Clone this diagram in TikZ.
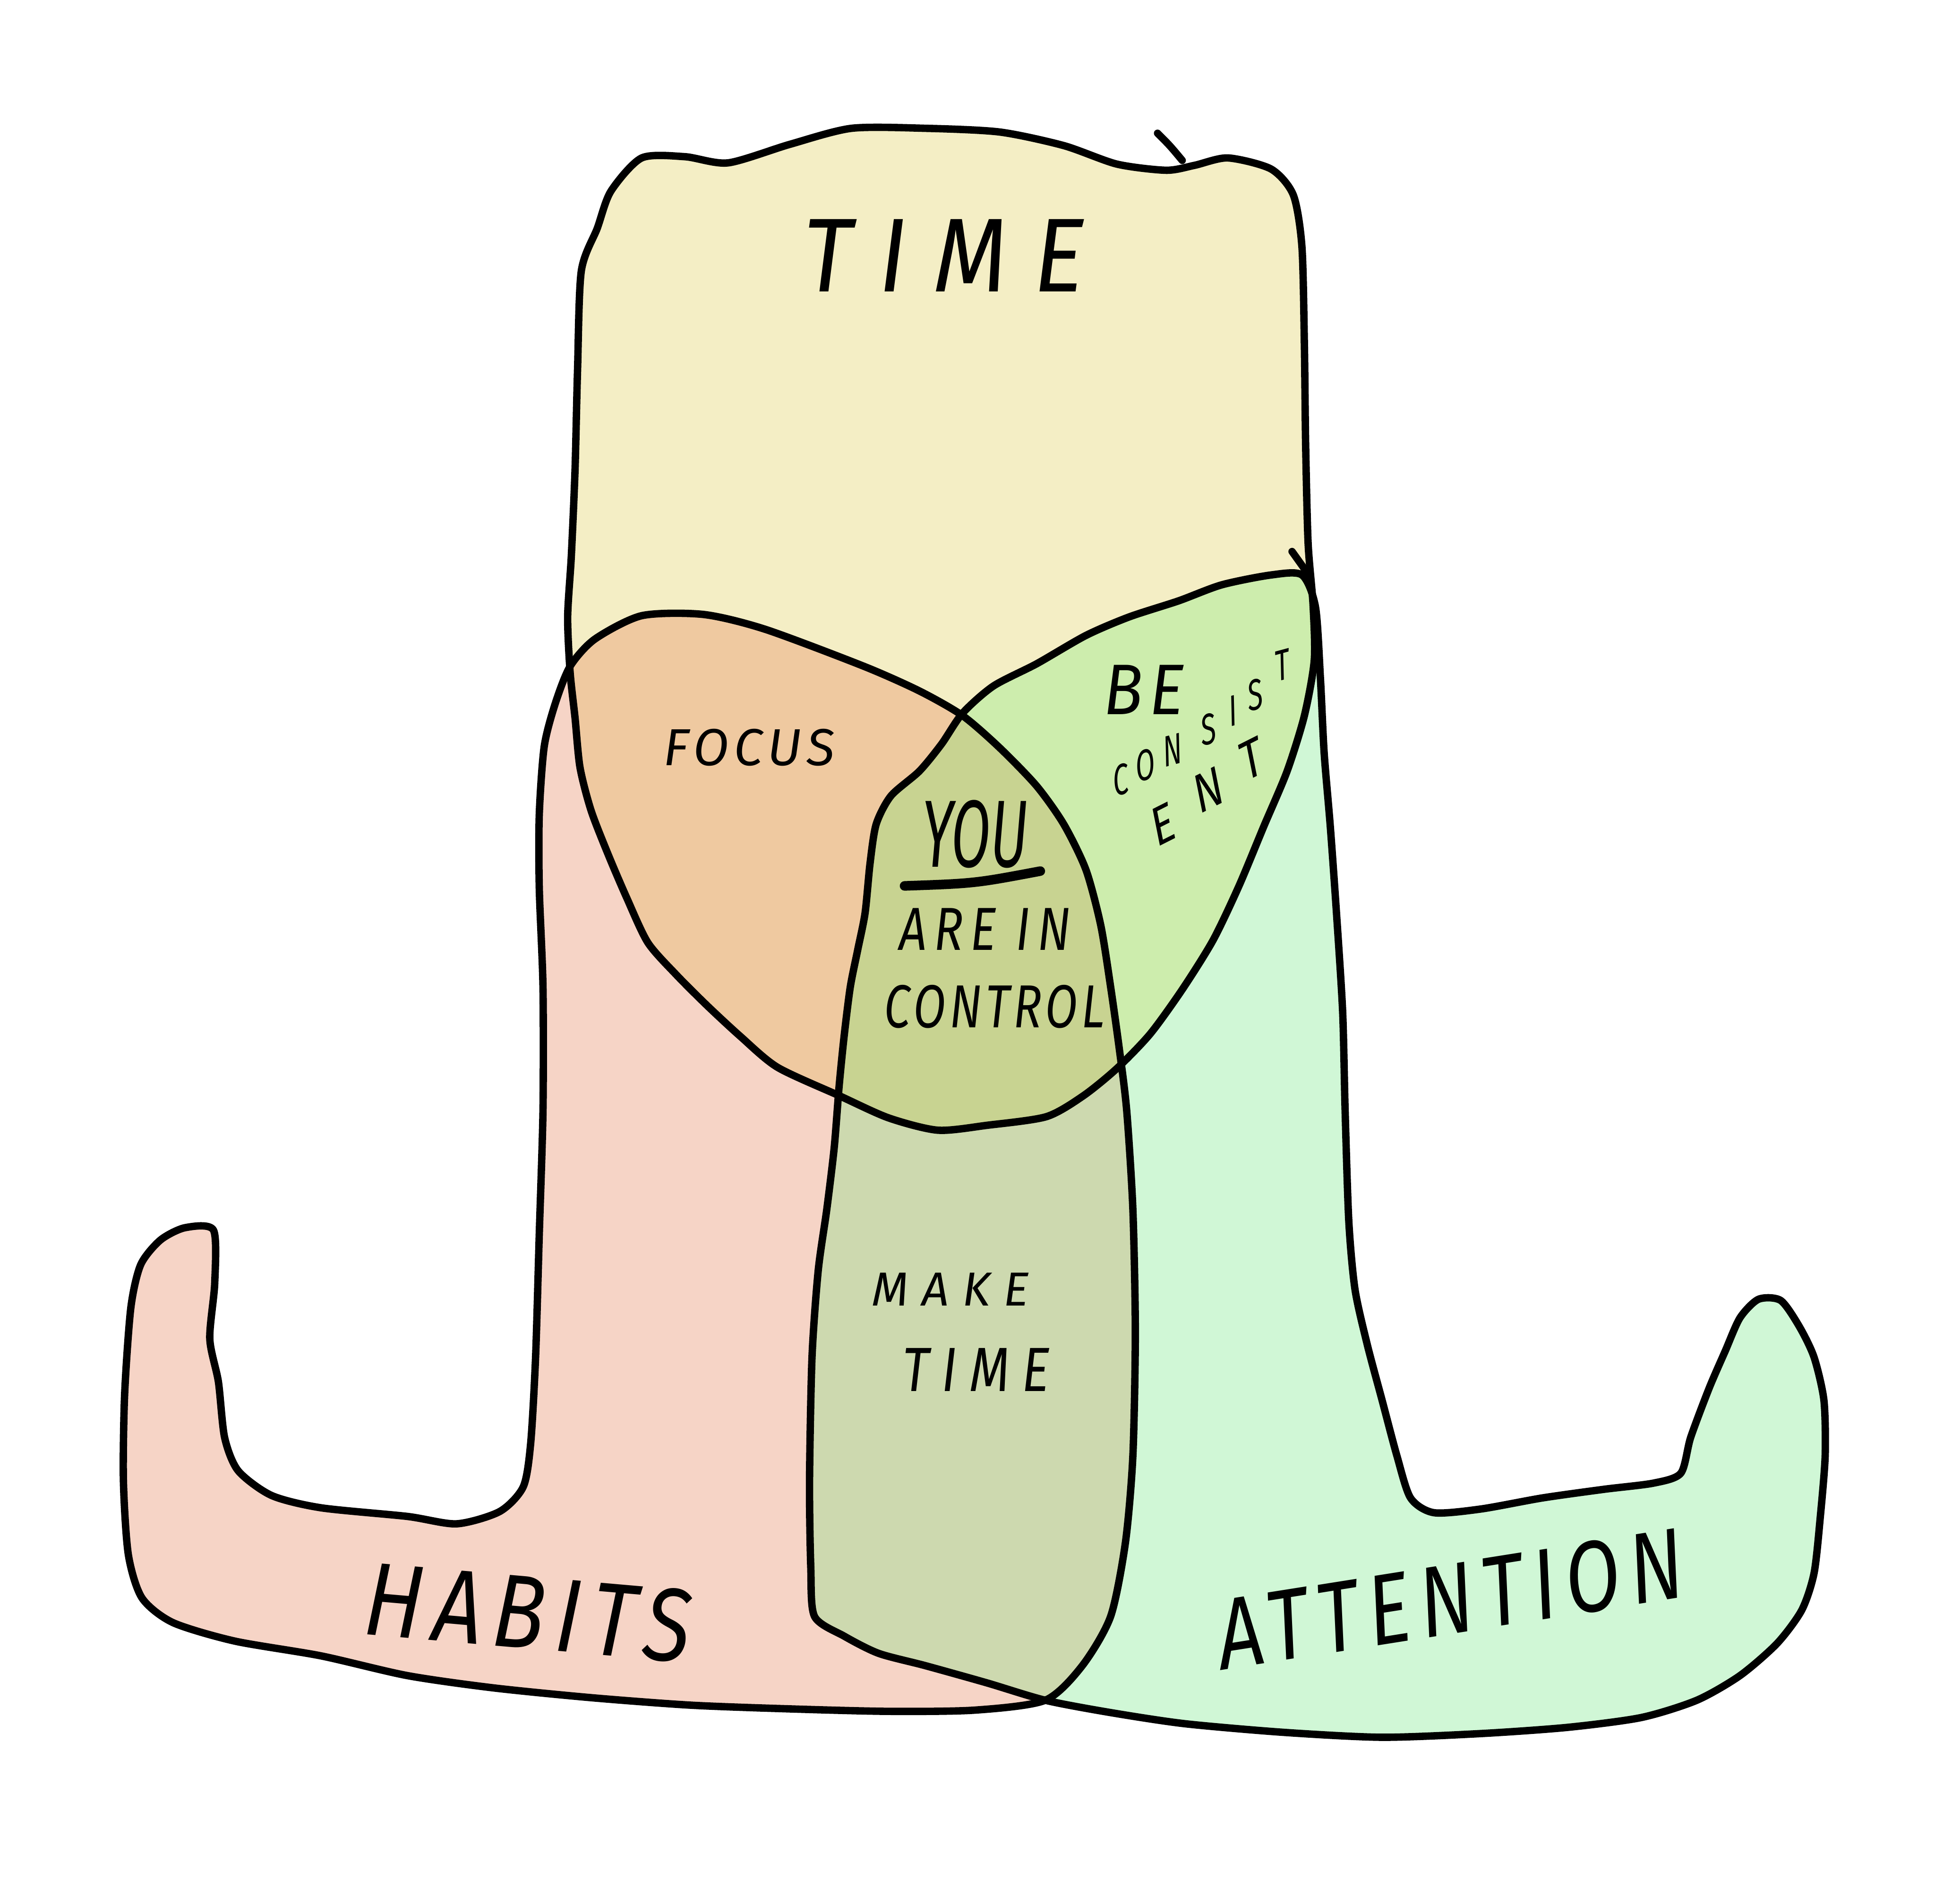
\documentclass[tikz,border=0pt]{standalone}
\usepackage{fontspec}
\setmainfont{Fira Sans}
\newfontfamily\handfont{Fira Sans}

\definecolor{timefill}{HTML}{F4EEC5}
\definecolor{habitfill}{HTML}{F6D4C6}
\definecolor{attnfill}{HTML}{D0F7D6}
\definecolor{focusfill}{HTML}{EFC9A0}
\definecolor{consistfill}{HTML}{CDEDAD}
\definecolor{youfill}{HTML}{C8D391}
\definecolor{makefill}{HTML}{CDD9AF}

% hand lettering: size, letter spacing
\newcommand\hand[2]{\handfont\itshape\addfontfeature{LetterSpace=#2}\fontsize{#1}{#1}\selectfont}

% the three hand drawn sets
\newcommand\timeshape{plot[smooth cycle, tension=0.45] coordinates {
  (520,128) (555,127) (590,132) (640,117) (690,104) (750,104) (810,107)
  (862,118) (905,133) (945,138) (968,134) (995,128) (1030,137) (1048,158)
  (1055,200) (1057,280) (1058,360) (1060,440) (1064,490) (1065,535)
  (1057,580) (1043,625) (1024,670) (1004,718) (983,762) (958,802) (932,838)
  (905,866) (878,888) (848,905) (800,912) (760,916) (720,906) (680,888)
  (630,865) (600,840) (573,815) (548,790) (525,764) (508,728) (493,693)
  (479,657) (470,622) (466,582) (462,545) (460,500) (463,450) (466,380)
  (468,300) (471,220) (484,185) (495,155)}}
\newcommand\habitshape{plot[smooth cycle, tension=0.45] coordinates {
  (462,540) (482,518) (520,499) (570,498) (620,510) (700,540) (745,560)
  (780,580) (810,606) (840,637) (862,668) (880,705) (892,750) (900,800)
  (907,850) (913,900) (918,980) (920,1080) (918,1180) (912,1250) (900,1310)
  (877,1350) (847,1378) (790,1386) (720,1387) (640,1385) (560,1382)
  (480,1376) (400,1368) (330,1358) (260,1342) (190,1330) (140,1315)
  (115,1295) (104,1260) (100,1200) (101,1130) (106,1060) (114,1025)
  (130,1005) (150,995) (173,997) (174,1040) (170,1085) (177,1120)
  (182,1165) (193,1192) (220,1212) (260,1222) (330,1229) (370,1235)
  (405,1225) (424,1205) (430,1170) (434,1100) (437,1000) (440,900)
  (440,800) (437,720) (437,660) (441,605) (450,570)}}
\newcommand\attnshape{plot[smooth cycle, tension=0.45] coordinates {
  (780,578) (805,556) (840,538) (880,515) (915,500) (955,487) (990,474)
  (1030,466) (1055,466) (1066,492) (1070,550) (1073,610) (1078,670)
  (1083,740) (1088,820) (1090,900) (1093,990) (1098,1045) (1108,1090)
  (1120,1135) (1132,1180) (1143,1214) (1162,1226) (1200,1223) (1250,1214)
  (1300,1207) (1340,1202) (1362,1194) (1370,1165) (1385,1125) (1398,1095)
  (1410,1068) (1425,1053) (1443,1054) (1458,1075) (1470,1100) (1478,1135)
  (1479,1180) (1475,1230) (1470,1275) (1460,1305) (1440,1332) (1410,1358)
  (1375,1378) (1330,1392) (1270,1400) (1200,1405) (1120,1408) (1040,1404)
  (960,1397) (900,1388) (847,1378) (800,1364) (750,1350) (712,1340)
  (684,1326) (660,1310) (657,1270) (656,1200) (658,1100) (663,1030)
  (670,980) (676,930) (680,880) (684,840) (689,800) (695,770) (701,740)
  (705,700) (710,668) (722,645) (745,625) (763,603)}}

\tikzset{
  outline/.style={line width=1.7pt, line join=round, line cap=round},
  word/.style={inner sep=0pt, text=black},
}

\begin{document}
\begin{tikzpicture}[x=0.01cm, y=-0.01cm]
\useasboundingbox (0,0) rectangle (1568,1543);
\fill[white] (0,0) rectangle (1568,1543);

% base fills
\fill[timefill] \timeshape;
\fill[habitfill] \habitshape;
\fill[attnfill] \attnshape;

% overlaps
\begin{scope}
  \clip \timeshape;
  \fill[focusfill] \habitshape;
  \fill[consistfill] \attnshape;
\end{scope}
\begin{scope}
  \clip \habitshape;
  \fill[makefill] \attnshape;
\end{scope}
\begin{scope}
  \clip \timeshape;
  \clip \habitshape;
  \fill[youfill] \attnshape;
\end{scope}

% outlines
\draw[outline] \timeshape;
\draw[outline] \habitshape;
\draw[outline] \attnshape;
\draw[outline] (1047,447) -- (1062,468);
\draw[outline] (938,108) .. controls (948,118) .. (958,130);

% labels
\node[word, font=\hand{22}{28}, yscale=1.1] (time) at (765,207) {TIME};
\node[word, font=\hand{12}{10}] (focus) at (607,606) {FOCUS};
\node[word, font=\hand{15}{10}, yscale=1.1] (be) at (927,559) {BE};
% letters of consist/ent follow the curve
\foreach \ch/\px/\py [count=\i] in {C/908/632, O/928/620, N/950/608, S/979/591, I/999/576, S/1017/563, T/1039/539}
  \node[word, font=\hand{10}{0}, xscale=0.65, rotate=10] (consist\i) at (\px,\py) {\ch};
\foreach \ch/\px/\py [count=\i] in {E/942/668, N/979/640, T/1014/615}
  \node[word, font=\hand{12.5}{0}, xscale=0.8, rotate=22] (ent\i) at (\px,\py) {\ch};
\node[word, font=\hand{22}{0}, xscale=0.6] (you) at (790,676) {YOU};
\draw[line width=2.2pt, line cap=round] (733,718) .. controls (790,716) .. (843,706);
\node[word, font=\hand{14}{15}, xscale=0.8] (arein) at (798,753) {ARE IN};
\node[word, font=\hand{14}{8}, xscale=0.78] (control) at (806,816) {CONTROL};
\node[word, font=\hand{11}{28}] (make) at (770,1045) {MAKE};
\node[word, font=\hand{12}{24}, yscale=1.2] (maketime) at (791,1110) {TIME};
\node[word, font=\hand{20}{12}, rotate=-5, yscale=1.2] (habits) at (428,1307) {HABITS};
\node[word, font=\hand{18.5}{12}, rotate=9, yscale=1.25] (attention) at (1175,1296) {ATTENTION};
\end{tikzpicture}
\end{document}
